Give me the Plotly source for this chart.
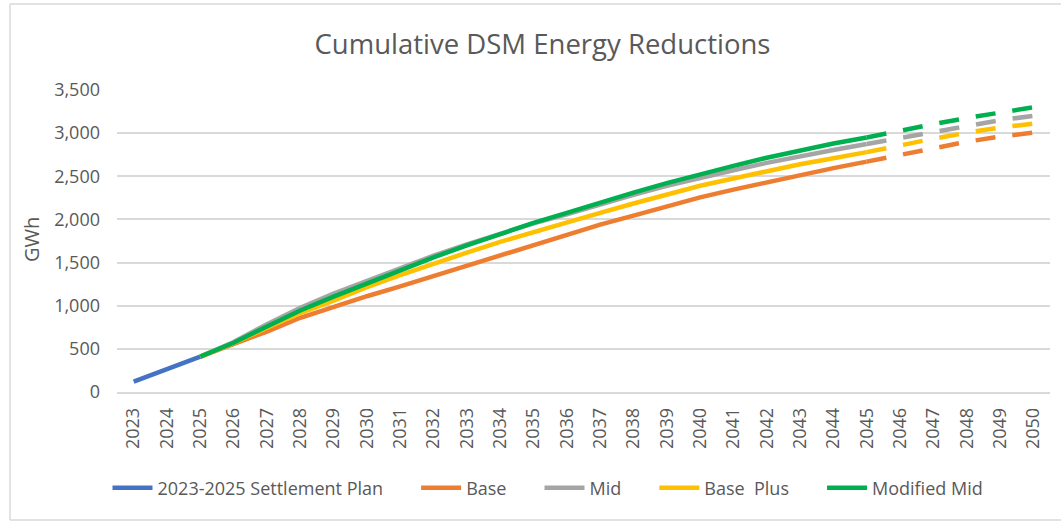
import plotly.graph_objects as go

years = [str(y) for y in range(2023, 2051)]

settle_years = ["2023", "2024", "2025"]
settle_vals = [120, 260, 410]

solid_years = [str(y) for y in range(2025, 2046)]
base_vals = [410, 555, 700, 860, 990, 1110, 1225, 1345, 1465, 1590, 1710, 1820, 1940, 2045, 2150, 2255, 2345, 2430, 2515, 2595, 2670]
mid_vals = [410, 580, 785, 975, 1140, 1290, 1440, 1580, 1710, 1835, 1955, 2060, 2175, 2285, 2390, 2485, 2570, 2655, 2735, 2805, 2875]
baseplus_vals = [410, 565, 745, 915, 1060, 1215, 1355, 1490, 1615, 1740, 1855, 1960, 2075, 2185, 2290, 2390, 2475, 2560, 2640, 2710, 2780]
modmid_vals = [410, 570, 760, 945, 1105, 1260, 1415, 1560, 1700, 1830, 1960, 2075, 2195, 2310, 2420, 2525, 2620, 2715, 2800, 2880, 2950]

dash_years = [str(y) for y in range(2045, 2051)]
base_dash = [2670, 2750, 2825, 2900, 2960, 3005]
mid_dash = [2875, 2945, 3020, 3090, 3150, 3200]
baseplus_dash = [2780, 2860, 2935, 3005, 3065, 3110]
modmid_dash = [2950, 3030, 3105, 3175, 3240, 3300]

y_ticks = [0, 500, 1000, 1500, 2000, 2500, 3000, 3500]
y_ticklabels = ["0", "500", "1,000", "1,500", "2,000", "2,500", "3,000", "3,500"]

colors = {
    "settle": "#4472C4",
    "base": "#ED7D31",
    "mid": "#A5A5A5",
    "baseplus": "#FFC000",
    "modmid": "#00B050",
}
LW = 4.5
FONT = "Open Sans"
TXT = "#595959"
PAD = "\u00a0" * 6

L, R, T, B = 117, 1050, 90, 392
PW, PH = R - L, B - T


def px_x(p):
    return (p - L) / PW


def px_y(p):
    return (B - p) / PH


fig = go.Figure()

fig.add_trace(go.Scatter(x=settle_years, y=settle_vals, mode="lines", name="2023-2025 Settlement Plan" + PAD,
                         line=dict(color=colors["settle"], width=LW)))
for name, key, vals, dvals in [
    ("Base" + PAD, "base", base_vals, base_dash),
    ("Mid" + PAD, "mid", mid_vals, mid_dash),
    ("Base  Plus" + PAD, "baseplus", baseplus_vals, baseplus_dash),
    ("Modified Mid", "modmid", modmid_vals, modmid_dash),
]:
    fig.add_trace(go.Scatter(x=solid_years, y=vals, mode="lines", name=name,
                             line=dict(color=colors[key], width=LW)))
    fig.add_trace(go.Scatter(x=dash_years, y=dvals, mode="lines", name=name.strip("\u00a0") + " (dashed)",
                             showlegend=False,
                             line=dict(color=colors[key], width=LW, dash="20px,17px")))

fig.update_layout(
    width=1061, height=521,
    margin=dict(l=L, r=1061 - R, t=T, b=521 - B),
    paper_bgcolor="white", plot_bgcolor="white",
    font=dict(family=FONT, color=TXT, size=18),
    title=dict(text="Cumulative DSM Energy Reductions", x=542.5 / 1061, xanchor="center",
               y=1 - 44 / 521, yanchor="middle",
               font=dict(family=FONT, size=27.5, color=TXT)),
    showlegend=True,
    legend=dict(orientation="h", x=px_x(548), xanchor="center",
                y=px_y(488), yanchor="middle",
                font=dict(family=FONT, size=18, color=TXT),
                itemwidth=40, traceorder="normal"),
    xaxis=dict(type="category", categoryorder="array", categoryarray=years,
               range=[-0.5, len(years) - 0.5], tickangle=-90,
               showgrid=False, showline=True, linecolor="#D9D9D9", linewidth=1.5,
               ticks="", ticklabelstandoff=7,
               tickfont=dict(family=FONT, size=18, color=TXT), fixedrange=True),
    yaxis=dict(range=[0, 3500], tickvals=y_ticks, ticktext=y_ticklabels,
               showgrid=True, gridcolor="#D9D9D9", gridwidth=1.5, zeroline=False,
               showline=False, ticks="", ticklabelstandoff=16,
               tickfont=dict(family=FONT, size=18, color=TXT), fixedrange=True),
    annotations=[dict(text="GWh", xref="paper", yref="paper", x=px_x(31),
                      y=px_y(240), showarrow=False, textangle=-90,
                      xanchor="center", yanchor="middle",
                      font=dict(family=FONT, size=20, color=TXT))],
    shapes=[
        dict(type="line", xref="paper", yref="paper", x0=px_x(10), x1=px_x(1061),
             y0=px_y(4), y1=px_y(4), line=dict(color="#D9D9D9", width=1.5)),
        dict(type="line", xref="paper", yref="paper", x0=px_x(10), x1=px_x(10),
             y0=px_y(4), y1=px_y(520), line=dict(color="#D9D9D9", width=1.5)),
        dict(type="line", xref="paper", yref="paper", x0=px_x(10), x1=px_x(1061),
             y0=px_y(520), y1=px_y(520), line=dict(color="#D9D9D9", width=1.5)),
    ],
)

fig.write_html("out.html", config={"displayModeBar": False},
               post_script="document.body.style.margin='0px';")
